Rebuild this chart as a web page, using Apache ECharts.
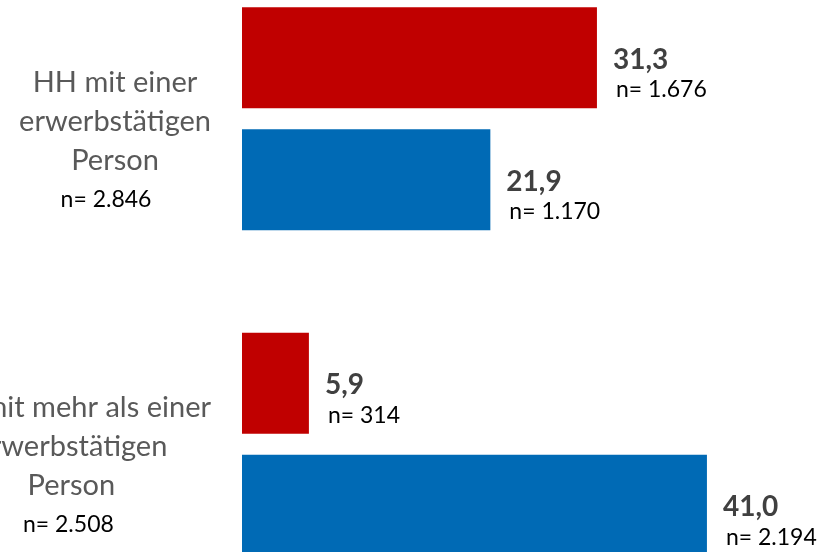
<!DOCTYPE html>
<html>
<head>
<meta charset="utf-8">
<style>
  html, body { margin: 0; padding: 0; background: #ffffff; }
  #chart { width: 819px; height: 552px; }
</style>
<script src="https://cdn.jsdelivr.net/npm/echarts@6/dist/echarts.min.js"></script>
</head>
<body>
<div id="chart"></div>
<script>
// Household groups and their sample sizes
const categories = ['HH mit einer erwerbstätigen Person', 'HH mit mehr als einer erwerbstätigen Person'];
const categoryN = [2846, 2508];

// Shares per group (percent) and the case counts behind them
const redValues = [31.3, 5.9];
const redN = [1676, 314];
const blueValues = [21.9, 41.0];
const blueN = [1170, 2194];

const FONT = 'Lato, "Open Sans", sans-serif';

function fmtThousands(v) {
  return String(v).replace(/\B(?=(\d{3})+(?!\d))/g, '.');
}
function fmtDecimal(v) {
  return v.toFixed(1).replace('.', ',');
}

function barLabel(nArr) {
  return {
    show: true,
    position: 'right',
    distance: 16,
    offset: [0, 17],
    formatter: function (p) {
      return '{v|' + fmtDecimal(p.value) + '}\n{n|n= ' + fmtThousands(nArr[p.dataIndex]) + '}';
    },
    rich: {
      v: { fontFamily: FONT, fontWeight: 'bold', fontSize: 28, color: '#404040', lineHeight: 30 },
      n: { fontFamily: FONT, fontSize: 23, color: '#000000', lineHeight: 30, padding: [0, 0, 0, 3] }
    }
  };
}

const chart = echarts.init(document.getElementById('chart'), null, { renderer: 'canvas' });

chart.setOption({
  animation: false,
  backgroundColor: '#ffffff',
  grid: { left: 242, right: 10, top: -44, bottom: -55, outerBoundsMode: 'none', containLabel: false },
  xAxis: {
    type: 'value',
    min: 0,
    max: 50,
    show: false,
    splitLine: { show: false }
  },
  yAxis: {
    type: 'category',
    inverse: true,
    data: categories,
    axisLine: { show: false },
    axisTick: { show: false },
    splitLine: { show: false },
    axisLabel: {
      margin: 31,
      align: 'right',
      verticalAlign: 'middle',
      padding: [44, 0, 0, 0],
      formatter: function (value, idx) {
        const lines = value.replace(' erwerbstätigen ', '\nerwerbstätigen\n').split('\n');
        const s = idx === 1 ? 'b' : 'a';
        return lines.map(l => '{' + s + '|' + l + '}').join('\n') + '\n{' + s + 'n|n= ' + fmtThousands(categoryN[idx]) + '}';
      },
      rich: {
        a: { fontFamily: FONT, fontSize: 29, color: '#595959', lineHeight: 39, align: 'center' },
        an: { fontFamily: FONT, fontSize: 23, color: '#000000', lineHeight: 39, align: 'center', padding: [0, 18, 0, 0] },
        b: { fontFamily: FONT, fontSize: 29, color: '#595959', lineHeight: 39, align: 'center' },
        bn: { fontFamily: FONT, fontSize: 23, color: '#000000', lineHeight: 39, align: 'center', padding: [0, 6, 0, 0] }
      }
    }
  },
  series: [
    {
      type: 'bar',
      data: redValues,
      barWidth: 101,
      barGap: '21%',
      itemStyle: { color: '#C00000' },
      label: barLabel(redN)
    },
    {
      type: 'bar',
      data: blueValues,
      barWidth: 101,
      barGap: '21%',
      itemStyle: { color: '#006AB5' },
      label: barLabel(blueN)
    }
  ]
});
</script>
</body>
</html>
